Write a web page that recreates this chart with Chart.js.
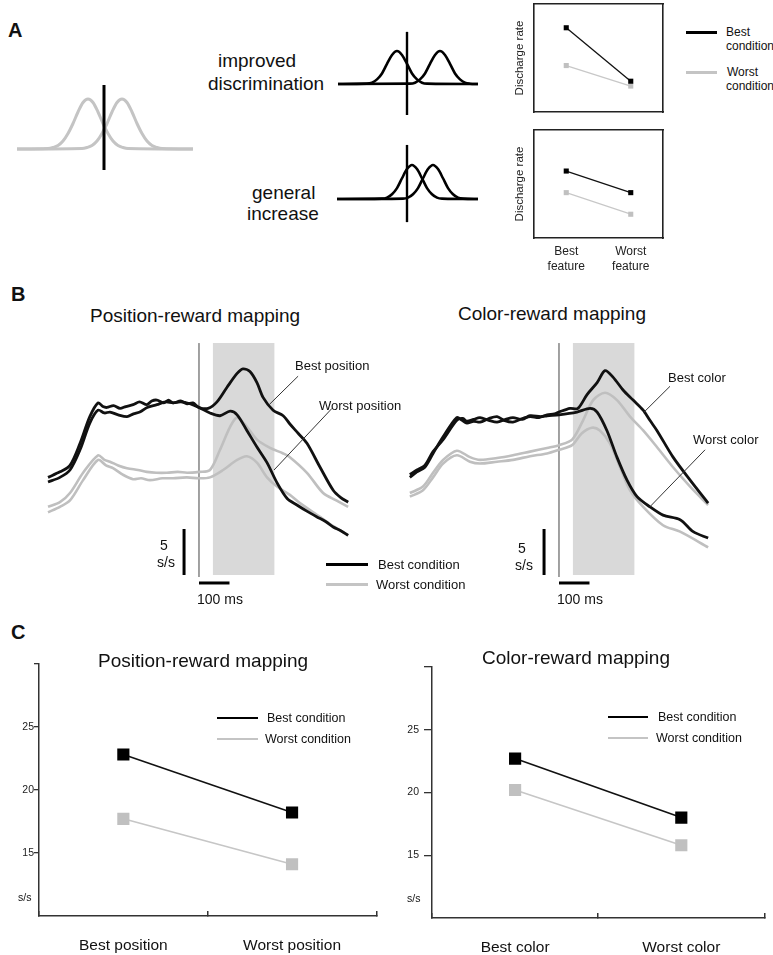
<!DOCTYPE html>
<html><head><meta charset="utf-8">
<script src="https://cdn.jsdelivr.net/npm/chart.js@4.4.1/dist/chart.umd.min.js"></script>
<style>
html,body{margin:0;padding:0;background:#fff;}
#page{position:relative;width:773px;height:955px;overflow:hidden;font-family:"Liberation Sans",Arial,sans-serif;color:#111;}
canvas{position:absolute;}
.t{position:absolute;white-space:nowrap;line-height:1;transform:translateY(-50%);}
.sw{position:absolute;}
</style></head><body><div id="page"></div>
<script>
// ===== Panel A: schematic tuning curves =====
const bumpWide = [0,0.01,0.03,0.07,0.16,0.31,0.51,0.74,0.93,1,0.93,0.74,0.51,0.31,0.16,0.07,0.03,0.01,0];
const baseGrayX1 = [-8.7,-5.6,-5.1,-4.6,-4.1,-3.6,-3.1,-2.6,-2.1,-1.6,-1.1,-0.6,-0.1,0.4,0.9,1.4,1.9,2.4,8.9];
const baseGrayX2 = [-8.7,-2.2,-1.7,-1.2,-0.7,-0.2,0.3,0.8,1.3,1.8,2.3,2.8,3.3,3.8,4.3,4.8,5.3,5.8,8.9];
const bumpNarrow = [0,0.01,0.04,0.14,0.32,0.61,0.88,1,0.88,0.61,0.32,0.14,0.04,0.01,0];
const discX1 = [-6.9,-4.0,-3.5,-3.0,-2.5,-2.0,-1.5,-1.0,-0.5,0,0.5,1.0,1.5,2.0,7.1];
const discX2 = [-6.9,0.3,0.8,1.3,1.8,2.3,2.8,3.3,3.8,4.3,4.8,5.3,5.8,6.3,7.1];
const incX1 = [-7.0,-2.5,-2.0,-1.5,-1.0,-0.5,0,0.5,1.0,1.5,2.0,2.5,3.0,3.5,7.1];
const incX2 = [-7.0,-0.4,0.1,0.6,1.1,1.6,2.1,2.6,3.1,3.6,4.1,4.6,5.1,5.6,7.1];
const criterionBase = [-0.42, 1.28];
const criterionDisc = [-0.94, 1.58];
const criterionInc = [-0.68, 1.59];

// ===== Panel A: predicted discharge rates =====
const featureLabels = [['Best','feature'],['Worst','feature']];
const discBest = [7.8, 2.85];
const discWorst = [4.3, 2.4];
const incBest = [6.2, 4.2];
const incWorst = [4.2, 2.2];

// ===== Panel B: population activity (ms, spikes/s) =====
const posBlackBestT = [-495,-456,-423,-390,-358,-331,-315,-302,-280,-259,-240,-216,-195,-171,-155,-138,-115,-100,-85,-60,-39,-20,0,30,59,92,125,144,167,190,210,243,276,298,325,354,397,440,465,489];
const posBlackBestR = [11.7,12.3,13.0,15.4,18.3,19.8,19.4,19.3,19.5,19.2,19.4,19.6,19.9,19.6,20.0,20.1,19.8,20.1,19.8,20.0,19.7,19.8,19.3,19.2,19.9,21.5,23.0,23.5,23.2,22.0,20.4,19.0,18.4,17.5,16.5,15.4,12.8,10.3,9.5,9.0];
const posBlackWorstT = [-495,-456,-423,-390,-358,-331,-310,-292,-265,-236,-215,-194,-170,-138,-110,-85,-60,-30,0,36,69,102,125,157,190,223,256,289,321,355,387,415,440,465,489];
const posBlackWorstR = [11.2,11.7,12.5,14.7,17.6,19.0,18.7,18.8,18.5,18.3,18.6,18.8,19.3,19.6,19.9,19.8,19.9,19.7,19.3,18.7,18.4,18.9,18.5,16.8,15.0,13.3,11.1,9.4,8.7,8.0,7.4,6.9,6.3,5.9,5.4];
const posGrayBestT = [-495,-456,-423,-380,-331,-310,-292,-265,-236,-200,-171,-140,-105,-70,-39,0,36,69,102,125,157,190,233,276,298,354,407,450,489];
const posGrayBestR = [8.5,9.0,10.0,12.2,14.1,13.6,13.4,13.0,12.7,12.5,12.3,12.2,12.2,12.3,12.2,12.3,12.5,14.7,17.2,18.2,17.2,15.8,14.9,14.3,13.9,12.2,10.0,9.2,8.5];
const posGrayWorstT = [-495,-456,-423,-380,-331,-305,-282,-250,-216,-190,-161,-120,-85,-40,0,36,79,125,157,190,223,256,298,331,397,440,489];
const posGrayWorstR = [7.9,8.5,9.2,11.4,13.6,13.0,12.7,12.0,11.5,11.6,11.4,11.6,11.6,11.7,11.6,11.7,12.5,13.6,14.0,13.3,11.7,10.7,9.8,8.9,7.4,6.4,5.4];

const colBlackBestT = [-489,-466,-440,-413,-380,-335,-318,-302,-280,-259,-230,-203,-180,-151,-120,-95,-65,-39,-15,0,36,62,92,125,151,177,210,243,276,298,321,374,430,489];
const colBlackBestR = [11.7,12.3,12.8,14.3,16.1,18.2,17.9,17.6,17.8,17.7,18.1,18.3,17.9,17.7,18.1,18.3,18.2,18.5,18.6,18.8,19.2,19.2,20.7,22.0,23.3,22.6,21.2,20.1,19.0,17.9,16.8,13.9,11.4,8.9];
const colBlackWorstT = [-489,-466,-440,-413,-380,-335,-315,-302,-280,-259,-230,-203,-175,-151,-120,-95,-60,-39,0,59,102,125,157,190,223,256,298,341,397,440,489];
const colBlackWorstR = [12.0,12.5,13.0,14.5,15.8,17.9,18.1,17.8,18.0,18.2,17.9,17.7,18.0,18.2,18.0,18.4,18.3,18.4,18.5,18.8,19.2,18.8,16.8,13.9,11.4,9.6,8.5,7.6,7.1,5.8,5.1];
const colGrayBestT = [-489,-446,-413,-380,-335,-292,-259,-203,-151,-95,-39,0,43,79,112,151,190,233,276,321,374,430,489];
const colGrayBestR = [10.0,10.7,12.2,13.6,14.6,13.9,13.6,13.8,14.1,14.5,14.9,15.2,15.8,17.9,20.1,20.9,20.1,18.3,16.8,15.0,12.8,10.7,8.7];
const colGrayWorstT = [-489,-446,-413,-380,-335,-292,-259,-203,-151,-95,-39,0,43,75,108,134,167,200,233,276,341,397,489];
const colGrayWorstR = [9.6,10.3,11.7,13.2,14.1,13.4,13.2,13.4,13.6,14.0,14.3,14.7,15.2,16.5,17.1,16.8,15.4,12.8,10.3,8.5,6.5,5.8,4.1];

const windowMs = [45, 248];        // shaded analysis window
const windowRate = [1.09, 26.3];   // vertical extent of shading / cue line
const cueMs = 0;
const cueRate = [0.87, 26.3];
const barRate = [1.09, 6.09];      // 5 s/s scale bar
const barRateAt = -49;
const barMs = [0, 100];            // 100 ms scale bar
const barMsAt = 0.22;
const posLeaderBest = [[325, 22.7], [230, 19.6]];
const posLeaderWorst = [[436, 19.2], [246, 12.5]];
const colLeaderBest = [[364, 21.6], [276, 18.7]];
const colLeaderWorst = [[479, 14.7], [298, 8.5]];

// ===== Panel C: mean discharge rate (s/s) =====
const posCats = ['Best position', 'Worst position'];
const colCats = ['Best color', 'Worst color'];
const posBestC = [22.8, 18.2];
const posWorstC = [17.7, 14.1];
const colBestC = [22.7, 18.0];
const colWorstC = [20.2, 15.8];
const yTicksC = [15, 20, 25, 30];

// ---------------------------------------------------------------
const FONT = '"Liberation Sans", Arial, sans-serif';
Chart.defaults.font.family = FONT;
Chart.defaults.color = '#111';
const page = document.getElementById('page');
const BLACK = '#111', GRAY = '#bfbfbf';

function addCanvas(left, top, w, h) {
  const c = document.createElement('canvas');
  c.width = w; c.height = h;
  c.style.left = left + 'px'; c.style.top = top + 'px';
  c.style.width = w + 'px'; c.style.height = h + 'px';
  page.appendChild(c);
  return c.getContext('2d');
}
function label(text, x, cy, size, extra) {
  const d = document.createElement('div');
  d.className = 't'; d.textContent = text;
  d.style.left = x + 'px'; d.style.top = cy + 'px'; d.style.fontSize = size + 'px';
  if (extra) Object.assign(d.style, extra);
  page.appendChild(d);
}
function swatch(x1, x2, y, w, color) {
  const d = document.createElement('div');
  d.className = 'sw';
  d.style.left = x1 + 'px'; d.style.top = (y - w / 2) + 'px';
  d.style.width = (x2 - x1) + 'px'; d.style.height = w + 'px';
  d.style.background = color;
  page.appendChild(d);
}
const zip = (xs, ys) => xs.map((x, i) => ({x: x, y: ys[i]}));
const seg = (pairs) => pairs.map(p => ({x: p[0], y: p[1]}));
const line = (data, color, width, order, extra) => Object.assign({
  data: data, showLine: true, borderColor: color, borderWidth: width,
  pointRadius: 0, fill: false, order: order || 0, tension: 0
}, extra || {});
const hiddenScales = (xmin, xmax, ymin, ymax) => ({
  x: {type: 'linear', display: false, min: xmin, max: xmax},
  y: {type: 'linear', display: false, min: ymin, max: ymax}
});
const baseOpts = (scales) => ({
  responsive: false, animation: false, devicePixelRatio: 1,
  layout: {padding: 0},
  plugins: {legend: {display: false}, tooltip: {enabled: false}},
  events: [], scales: scales
});

// ---------- Panel A: gaussians ----------
const smooth = {cubicInterpolationMode: 'monotone'};
new Chart(addCanvas(6, 70, 200, 110), {
  type: 'scatter',
  data: {datasets: [
    line(zip(baseGrayX1, bumpWide), '#c4c4c4', 3, 2, smooth),
    line(zip(baseGrayX2, bumpWide), '#c4c4c4', 3, 2, smooth),
    line(zip([0, 0], criterionBase), '#000', 3, 0)
  ]},
  options: baseOpts(hiddenScales(-9.8, 10.2, -0.62, 1.58))
});
new Chart(addCanvas(330, 25, 155, 100), {
  type: 'scatter',
  data: {datasets: [
    line(zip(discX1, bumpNarrow), '#000', 2.6, 1, smooth),
    line(zip(discX2, bumpNarrow), '#000', 2.6, 1, smooth),
    line(zip([0, 0], criterionDisc), '#000', 2.4, 0)
  ]},
  options: baseOpts(hiddenScales(-7.7, 7.8, -1.2424, 1.7879))
});
new Chart(addCanvas(330, 135, 155, 100), {
  type: 'scatter',
  data: {datasets: [
    line(zip(incX1, bumpNarrow), '#000', 2.6, 1, smooth),
    line(zip(incX2, bumpNarrow), '#000', 2.6, 1, smooth),
    line(zip([0, 0], criterionInc), '#000', 2.4, 0)
  ]},
  options: baseOpts(hiddenScales(-7.7, 7.8, -1.0588, 1.8824))
});

// ---------- Panel A: small rate boxes ----------
function rateBox(ctx, best, worst, showX, padTop, xAxisH) {
  const frame = {display: true, color: '#222', width: 1.6};
  const opts = baseOpts({
    x: {type: 'category', labels: featureLabels, offset: true,
        grid: {display: false, drawTicks: false}, border: frame,
        ticks: {display: showX, padding: 6.5, color: '#222', font: {size: 12, lineHeight: 1.25}},
        afterFit: s => { s.height = xAxisH; }},
    xTop: {type: 'category', position: 'top', labels: featureLabels, offset: true,
        grid: {display: false, drawTicks: false}, border: frame, ticks: {display: false},
        afterFit: s => { s.height = 0; }},
    y: {type: 'linear', min: 0, max: 10, grid: {display: false, drawTicks: false}, border: frame,
        ticks: {display: false},
        title: {display: true, text: 'Discharge rate', color: '#222', font: {size: 11.5}, padding: {top: 8, bottom: 0}},
        afterFit: s => { s.width = 29; }},
    yRight: {type: 'linear', position: 'right', min: 0, max: 10, grid: {display: false, drawTicks: false},
        border: frame, ticks: {display: false}, afterFit: s => { s.width = 0; }}
  });
  opts.layout = {padding: {top: padTop, right: 7, left: 0, bottom: 0}};
  new Chart(ctx, {
    type: 'line',
    data: {labels: featureLabels, datasets: [
      {data: best, borderColor: '#111', borderWidth: 1.3, pointStyle: 'rect', pointRadius: 3.6,
       pointBackgroundColor: '#000', pointBorderWidth: 0, order: 1},
      {data: worst, borderColor: '#c8c8c8', borderWidth: 1.3, pointStyle: 'rect', pointRadius: 3.6,
       pointBackgroundColor: '#c0c0c0', pointBorderWidth: 0, order: 2}
    ]},
    options: opts
  });
}
rateBox(addCanvas(505, 0, 165, 116), discBest, discWorst, false, 4, 3);
rateBox(addCanvas(505, 125, 165, 150), incBest, incWorst, true, 5, 37);

// ---------- Panel B: traces ----------
function traceChart(ctx, gb, gw, bb, bw, leadB, leadW) {
  new Chart(ctx, {
    type: 'scatter',
    data: {datasets: [
      line(zip(windowMs, [windowRate[1], windowRate[1]]), 'rgba(0,0,0,0)', 0, 10,
           {fill: {value: windowRate[0]}, backgroundColor: '#d9d9d9'}),
      line(zip([cueMs, cueMs], cueRate), '#444', 1, 9),
      line(gb, GRAY, 2.6, 5, {tension: 0.3}),
      line(gw, GRAY, 2.6, 5, {tension: 0.3}),
      line(bb, BLACK, 2.8, 2, {tension: 0.3}),
      line(bw, BLACK, 2.8, 2, {tension: 0.3}),
      line(zip([barRateAt, barRateAt], barRate), '#000', 3, 1),
      line(zip(barMs, [barMsAt, barMsAt]), '#000', 3, 1),
      line(seg(leadB), '#333', 1, 0),
      line(seg(leadW), '#333', 1, 0)
    ]},
    options: baseOpts(hiddenScales(-521.3, 527.9, -1.63, 27.72))
  });
}
traceChart(addCanvas(40, 330, 320, 270),
  zip(posGrayBestT, posGrayBestR), zip(posGrayWorstT, posGrayWorstR),
  zip(posBlackBestT, posBlackBestR), zip(posBlackWorstT, posBlackWorstR),
  posLeaderBest, posLeaderWorst);
traceChart(addCanvas(400, 330, 320, 270),
  zip(colGrayBestT, colGrayBestR), zip(colGrayWorstT, colGrayWorstR),
  zip(colBlackBestT, colBlackBestR), zip(colBlackWorstT, colBlackWorstR),
  colLeaderBest, colLeaderWorst);

// ---------- Panel C: summary ----------
function summaryChart(ctx, cats, best, worst, yW, xH, padTop, padRight, yTickLen, yPad) {
  const axis = {display: true, color: '#333', width: 1.5};
  const opts = baseOpts({
    x: {type: 'category', offset: true,
        grid: {display: true, offset: true, drawOnChartArea: false, drawTicks: true, tickLength: -5, color: '#333', lineWidth: 1.5},
        border: axis,
        ticks: {padding: 25, color: '#111', font: {size: 15.5}},
        afterFit: s => { s.height = xH; }},
    y: {type: 'linear', min: 10, max: 30,
        afterBuildTicks: s => { s.ticks = yTicksC.map(v => ({value: v})); },
        grid: {display: true, drawOnChartArea: false, drawTicks: true, tickLength: yTickLen, color: '#333', lineWidth: 1.3},
        border: axis,
        ticks: {padding: yPad, color: '#222', font: {size: 10.5}, callback: v => (v === 30 ? '' : String(v))},
        afterFit: s => { s.width = yW; }}
  });
  opts.layout = {padding: {top: padTop, right: padRight, left: 0, bottom: 0}};
  new Chart(ctx, {
    type: 'line',
    data: {labels: cats, datasets: [
      {data: best, borderColor: '#111', borderWidth: 1.6, pointStyle: 'rect', pointRadius: 8.6,
       pointBackgroundColor: '#000', pointBorderWidth: 0, order: 1},
      {data: worst, borderColor: '#c6c6c6', borderWidth: 1.6, pointStyle: 'rect', pointRadius: 8.6,
       pointBackgroundColor: '#c0c0c0', pointBorderWidth: 0, order: 2}
    ]},
    options: opts
  });
}
summaryChart(addCanvas(0, 655, 385, 300), posCats, posBestC, posWorstC, 39, 39, 8, 5, 5, 0);
summaryChart(addCanvas(390, 655, 383, 300), colCats, colBestC, colWorstC, 42, 37, 12, 1, 8, 5);

// ---------- Text ----------
const bold = {fontWeight: 'bold'};
label('A', 8, 30, 20, bold);
label('B', 11, 294, 20, bold);
label('C', 11, 632, 20, bold);

label('improved', 218, 60, 19);
label('discrimination', 208, 83, 19);
label('general', 252, 192, 19);
label('increase', 247, 213, 19);

swatch(686, 717, 32, 3, '#000');
label('Best', 726, 32, 12);
label('condition', 726, 46, 12);
swatch(686, 717, 72, 3, '#c4c4c4');
label('Worst', 727, 72, 12);
label('condition', 726, 86, 12);

label('Position-reward mapping', 90, 315, 19);
label('Color-reward mapping', 458, 313, 19);
label('Best position', 295, 365, 13);
label('Worst position', 319, 405, 13);
label('Best color', 668, 377, 13);
label('Worst color', 693, 439, 13);
label('5', 160, 545, 14);
label('s/s', 157, 562, 14);
label('5', 518, 548, 14);
label('s/s', 515, 565, 14);
label('100 ms', 197, 599, 14);
label('100 ms', 557, 599, 14);
swatch(326, 368, 564, 3, '#000');
label('Best condition', 378, 564, 13);
swatch(326, 368, 584, 3, '#c4c4c4');
label('Worst condition', 376, 584, 13);

label('Position-reward mapping', 98, 660, 19);
label('Color-reward mapping', 482, 657, 19);
swatch(217, 258, 718, 2.5, '#000');
label('Best condition', 267, 718, 12.5);
swatch(217, 258, 739, 2.5, '#c4c4c4');
label('Worst condition', 265, 739, 12.5);
swatch(608, 648, 717, 2.5, '#000');
label('Best condition', 658, 717, 12.5);
swatch(608, 648, 738, 2.5, '#c4c4c4');
label('Worst condition', 656, 738, 12.5);
label('s/s', 18, 897, 10.5);
label('s/s', 407, 898, 10.5);
</script></body></html>
